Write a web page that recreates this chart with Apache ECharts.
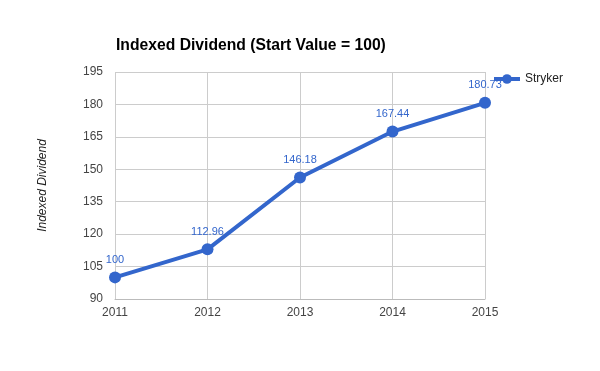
<!DOCTYPE html>
<html><head><meta charset="utf-8">
<script src="https://cdn.jsdelivr.net/npm/echarts@6/dist/echarts.min.js"></script>
<style>html,body{margin:0;padding:0;background:#fff}#c{width:600px;height:371px}</style>
</head><body><div id="c"></div>
<script>
var years = ['2011','2012','2013','2014','2015'];
var stryker = [100, 112.96, 146.18, 167.44, 180.73];
var yTicks = {min: 90, max: 195, interval: 15};

var FF = "Arial, 'Liberation Sans', sans-serif";
var chart = echarts.init(document.getElementById('c'), null, {renderer: 'canvas'});
chart.setOption({
  animation: false,
  title: {
    text: 'Indexed Dividend (Start Value = 100)',
    left: 111, top: 33,
    textStyle: {fontFamily: FF, fontSize: 15.7, fontWeight: 'bold', color: '#000'}
  },
  legend: {
    data: ['Stryker'],
    right: 32, top: 68, orient: 'vertical',
    itemWidth: 26, itemHeight: 12, itemGap: 6,
    lineStyle: {width: 4},
    textStyle: {fontFamily: FF, fontSize: 12, color: '#222'}
  },
  grid: {left: 115, right: 115, top: 72, bottom: 72},
  xAxis: {
    type: 'category', data: years, boundaryGap: false,
    axisLine: {lineStyle: {color: '#bbb'}},
    axisTick: {show: false},
    axisLabel: {fontFamily: FF, fontSize: 12, color: '#444', margin: 8},
    splitLine: {show: true, lineStyle: {color: '#ccc'}}
  },
  yAxis: {
    type: 'value', min: yTicks.min, max: yTicks.max, interval: yTicks.interval,
    name: 'Indexed Dividend', nameLocation: 'middle', nameGap: 66, nameRotate: 90,
    nameTextStyle: {fontFamily: FF, fontSize: 12, fontStyle: 'italic', color: '#222'},
    axisLine: {show: false}, axisTick: {show: false},
    axisLabel: {fontFamily: FF, fontSize: 12, color: '#444', margin: 12},
    splitLine: {show: true, lineStyle: {color: '#ccc'}}
  },
  series: [{
    name: 'Stryker', type: 'line', data: stryker,
    symbol: 'circle', symbolSize: 12,
    lineStyle: {color: '#3366cc', width: 4},
    itemStyle: {color: '#3366cc'},
    label: {show: true, position: 'top', distance: 6, fontFamily: FF, fontSize: 11, color: '#3366cc'}
  }]
});
</script></body></html>
